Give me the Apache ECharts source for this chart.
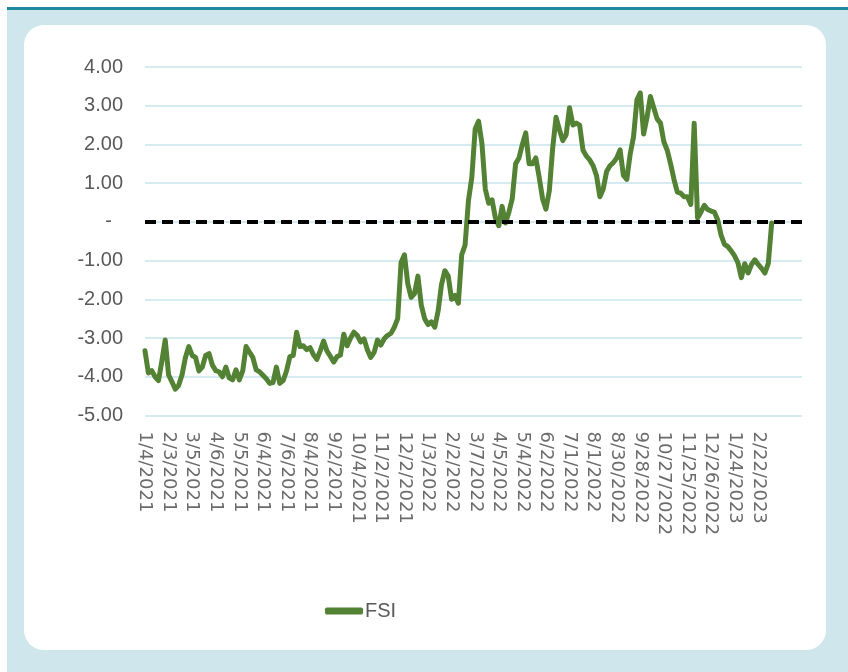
<!DOCTYPE html>
<html>
<head>
<meta charset="utf-8">
<script src="https://cdn.jsdelivr.net/npm/echarts@6/dist/echarts.min.js"></script>
<style>
  html, body { margin: 0; padding: 0; width: 848px; height: 672px; background: #ffffff; overflow: hidden; }
  #teal { position: absolute; left: 7px; top: 7px; width: 841px; height: 3px; background: #1d8a9c; }
  #frame { position: absolute; left: 7px; top: 10px; width: 841px; height: 662px; background: #cfe6ec; }
  #panel { position: absolute; left: 24px; top: 25px; width: 802px; height: 625px; background: #ffffff; border-radius: 20px; }
  #chart { position: absolute; left: 0; top: 0; width: 848px; height: 672px; }
</style>
</head>
<body>
<div id="teal"></div>
<div id="frame"></div>
<div id="panel"></div>
<div id="chart"></div>
<script>
// Tick labels on the category axis (one every 21 trading days)
var dateLabels = ['1/4/2021','2/3/2021','3/5/2021','4/6/2021','5/5/2021','6/4/2021','7/6/2021','8/4/2021',
  '9/2/2021','10/4/2021','11/2/2021','12/2/2021','1/3/2022','2/2/2022','3/7/2022','4/5/2022','5/4/2022',
  '6/2/2022','7/1/2022','8/1/2022','8/30/2022','9/28/2022','10/27/2022','11/25/2022','12/26/2022',
  '1/24/2023','2/22/2023'];
var pointsPerLabel = 7;      // samples between two labels
var totalCategories = 196;   // axis extends a little past the data

// FSI readings (every third trading day)
var fsi = [
  -3.33,-3.9,-3.84,-4.0,-4.1,-3.6,-3.05,
  -3.95,-4.13,-4.32,-4.22,-3.95,-3.5,-3.22,
  -3.45,-3.5,-3.85,-3.75,-3.45,-3.4,-3.7,
  -3.84,-3.87,-4.0,-3.75,-4.03,-4.08,-3.82,
  -4.08,-3.85,-3.22,-3.36,-3.5,-3.82,-3.87,
  -3.96,-4.05,-4.17,-4.15,-3.75,-4.17,-4.1,
  -3.85,-3.48,-3.45,-2.85,-3.22,-3.2,-3.3,
  -3.25,-3.43,-3.55,-3.33,-3.08,-3.33,-3.47,
  -3.62,-3.48,-3.44,-2.9,-3.2,-3.0,-2.85,
  -2.93,-3.1,-3.02,-3.3,-3.5,-3.37,-3.05,
  -3.18,-3.02,-2.93,-2.88,-2.72,-2.5,-1.05,
  -0.85,-1.6,-1.95,-1.85,-1.4,-2.15,-2.5,
  -2.65,-2.58,-2.72,-2.3,-1.62,-1.26,-1.4,
  -2.0,-1.9,-2.1,-0.85,-0.6,0.55,1.15,
  2.4,2.6,2.03,0.85,0.48,0.57,0.1,
  -0.1,0.4,-0.03,0.25,0.6,1.5,1.65,
  2.0,2.3,1.5,1.5,1.65,1.15,0.6,
  0.33,0.8,1.9,2.7,2.38,2.1,2.25,
  2.95,2.5,2.55,2.5,1.85,1.7,1.6,
  1.45,1.2,0.65,0.85,1.3,1.45,1.53,
  1.65,1.86,1.2,1.1,1.75,2.2,3.15,
  3.33,2.27,2.7,3.24,2.95,2.66,2.55,
  2.07,1.85,1.5,1.1,0.77,0.74,0.65,
  0.65,0.45,2.55,0.1,0.25,0.43,0.32,
  0.28,0.25,0.05,-0.35,-0.58,-0.64,-0.75,
  -0.88,-1.06,-1.44,-1.08,-1.32,-1.1,-0.98,
  -1.1,-1.2,-1.32,-1.07,-0.03
];

var categories = [];
for (var i = 0; i < totalCategories; i++) {
  var k = i / pointsPerLabel;
  categories.push(i % pointsPerLabel === 0 && dateLabels[k] ? dateLabels[k] : '');
}

var labelFont = "'Liberation Sans', Arial, sans-serif";

var chart = echarts.init(document.getElementById('chart'), null, { renderer: 'canvas' });
chart.setOption({
  animation: false,
  backgroundColor: 'transparent',
  grid: { left: 145, right: 46, top: 67, bottom: 256.5, containLabel: false },
  xAxis: {
    type: 'category',
    data: categories,
    boundaryGap: false,
    axisLine: { show: false, onZero: false },
    axisTick: { show: false },
    splitLine: { show: false },
    axisLabel: {
      interval: pointsPerLabel - 1,
      rotate: -90,
      margin: 16,
      color: '#6b6b6b',
      fontFamily: 'DejaVu Sans',
      fontSize: 18
    }
  },
  yAxis: {
    type: 'value',
    min: -5,
    max: 4,
    interval: 1,
    axisLine: { show: false },
    axisTick: { show: false },
    splitLine: { lineStyle: { color: '#d6ebf1', width: 2 } },
    axisLabel: {
      margin: 22,
      color: '#595959',
      fontFamily: labelFont,
      fontSize: 20,
      formatter: function (v) { return v === 0 ? '{z|-}' : v.toFixed(2); },
      rich: { z: { padding: [0, 11, 0, 0], fontSize: 20, color: '#595959', fontFamily: labelFont } }
    }
  },
  legend: {
    left: 320,
    top: 596,
    icon: 'roundRect',
    itemWidth: 38,
    itemHeight: 7,
    itemGap: 10,
    textStyle: {
      color: '#595959',
      fontSize: 20,
      padding: [0, 0, 0, -3],
      fontFamily: labelFont
    },
    data: ['FSI']
  },
  series: [{
    name: 'FSI',
    type: 'line',
    data: fsi,
    showSymbol: false,
    symbol: 'none',
    lineStyle: { color: '#548235', width: 5, join: 'round', cap: 'round' },
    itemStyle: { color: '#548235' },
    markLine: {
      silent: true,
      symbol: ['none', 'none'],
      label: { show: false },
      lineStyle: { color: '#000000', width: 4, type: [11, 6] },
      data: [{ yAxis: 0 }]
    },
    z: 3
  }]
});
</script>
</body>
</html>
